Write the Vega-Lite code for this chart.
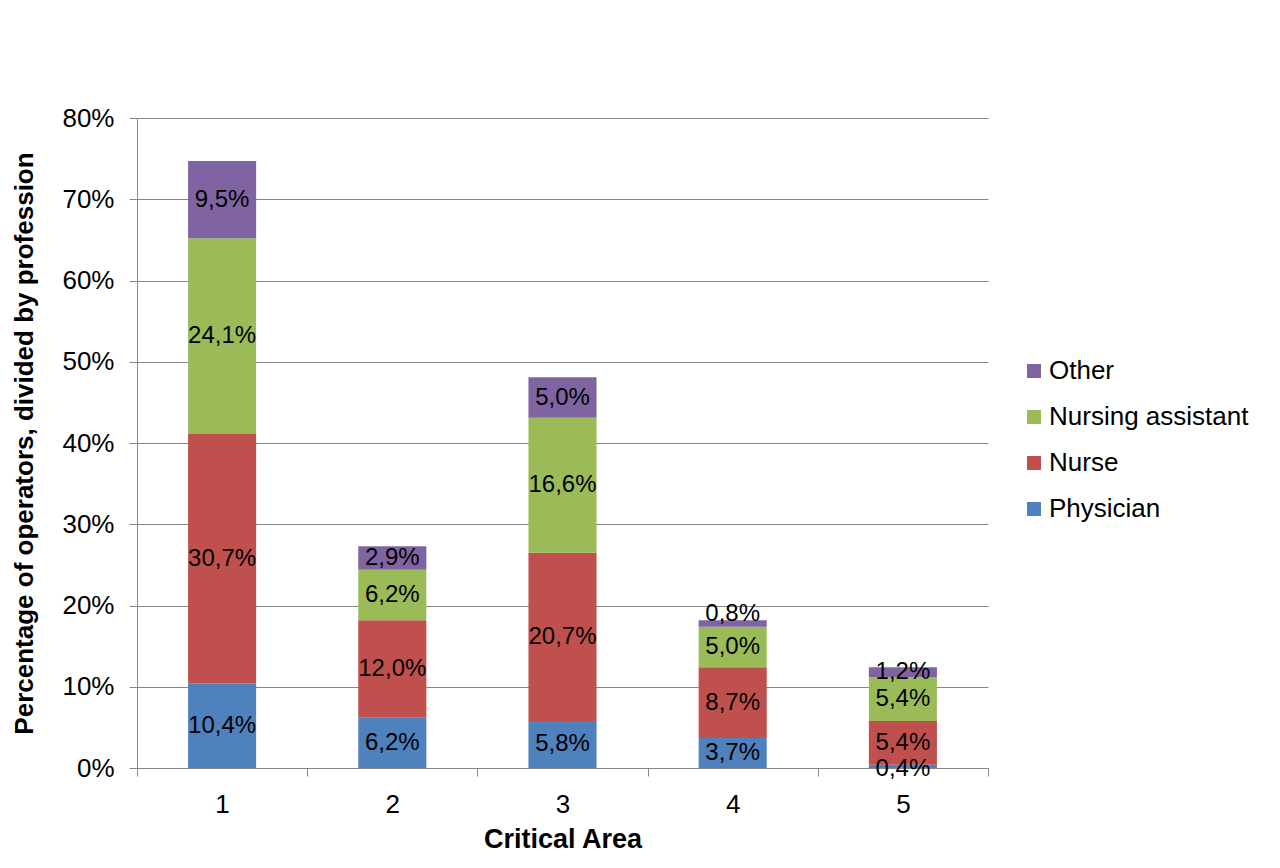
{
  "$schema": "https://vega.github.io/schema/vega-lite/v6.json",
  "autosize": {"type": "none"},
  "width": 851,
  "height": 650,
  "padding": {"left": 137, "top": 118, "right": 292, "bottom": 100},
  "background": "white",
  "config": {
    "font": "Liberation Sans",
    "view": {"stroke": null},
    "locale": {
      "number": {"decimal": ",", "thousands": ".", "grouping": [3], "currency": ["", " €"]}
    },
    "axis": {
      "domainColor": "#868686",
      "tickColor": "#868686",
      "gridColor": "#868686",
      "labelColor": "#000000",
      "titleColor": "#000000",
      "labelFont": "Liberation Sans",
      "titleFont": "Liberation Sans",
      "labelFontSize": 26,
      "titleFontSize": 27,
      "titleFontWeight": "bold",
      "tickSize": 8
    }
  },
  "data": {
    "values": [
      {"area": 1, "profession": "Physician", "share": 0.104},
      {"area": 1, "profession": "Nurse", "share": 0.307},
      {"area": 1, "profession": "Nursing assistant", "share": 0.241},
      {"area": 1, "profession": "Other", "share": 0.095},
      {"area": 2, "profession": "Physician", "share": 0.062},
      {"area": 2, "profession": "Nurse", "share": 0.120},
      {"area": 2, "profession": "Nursing assistant", "share": 0.062},
      {"area": 2, "profession": "Other", "share": 0.029},
      {"area": 3, "profession": "Physician", "share": 0.058},
      {"area": 3, "profession": "Nurse", "share": 0.207},
      {"area": 3, "profession": "Nursing assistant", "share": 0.166},
      {"area": 3, "profession": "Other", "share": 0.050},
      {"area": 4, "profession": "Physician", "share": 0.037},
      {"area": 4, "profession": "Nurse", "share": 0.087},
      {"area": 4, "profession": "Nursing assistant", "share": 0.050},
      {"area": 4, "profession": "Other", "share": 0.008},
      {"area": 5, "profession": "Physician", "share": 0.004},
      {"area": 5, "profession": "Nurse", "share": 0.054},
      {"area": 5, "profession": "Nursing assistant", "share": 0.054},
      {"area": 5, "profession": "Other", "share": 0.012}
    ]
  },
  "transform": [
    {"calculate": "indexof(['Physician', 'Nurse', 'Nursing assistant', 'Other'], datum.profession)", "as": "rank"},
    {"stack": "share", "groupby": ["area"], "sort": [{"field": "rank", "order": "ascending"}], "as": ["lo", "hi"]},
    {"calculate": "(datum.lo + datum.hi) / 2", "as": "mid"}
  ],
  "encoding": {
    "x": {
      "field": "area",
      "type": "ordinal",
      "scale": {"paddingInner": 0, "paddingOuter": 0},
      "axis": {
        "title": "Critical Area",
        "labelAngle": 0,
        "tickBand": "extent",
        "labelPadding": 15,
        "titlePadding": 9,
        "grid": false
      }
    }
  },
  "layer": [
    {
      "mark": {"type": "bar", "width": {"band": 0.4}},
      "encoding": {
        "y": {
          "field": "lo",
          "type": "quantitative",
          "scale": {"domain": [0, 0.8], "nice": false},
          "axis": {
            "title": "Percentage of operators, divided by profession",
            "titleFontSize": 26,
            "format": ".0%",
            "values": [0, 0.1, 0.2, 0.3, 0.4, 0.5, 0.6, 0.7, 0.8],
            "grid": true,
            "labelPadding": 15,
            "titlePadding": 24
          }
        },
        "y2": {"field": "hi"},
        "color": {
          "field": "profession",
          "type": "nominal",
          "scale": {
            "domain": ["Other", "Nursing assistant", "Nurse", "Physician"],
            "range": ["#8064A2", "#9BBB59", "#C0504D", "#4F81BD"]
          },
          "legend": {
            "title": null,
            "orient": "none",
            "legendX": 884,
            "legendY": 240,
            "padding": 0,
            "symbolType": "square",
            "symbolSize": 196,
            "symbolStrokeWidth": 0,
            "labelFontSize": 26,
            "labelFont": "Liberation Sans",
            "labelColor": "#000000",
            "labelOffset": 2,
            "rowPadding": 20,
            "labelLimit": 400
          }
        }
      }
    },
    {
      "transform": [{"filter": "datum.share >= 0.01"}],
      "mark": {"type": "text", "fontSize": 24, "font": "Liberation Sans", "color": "#000000", "baseline": "middle"},
      "encoding": {
        "y": {"field": "mid", "type": "quantitative"},
        "text": {"field": "share", "type": "quantitative", "format": ".1%"}
      }
    },
    {
      "transform": [{"filter": "datum.share < 0.01 && datum.profession === 'Other'"}],
      "mark": {"type": "text", "fontSize": 24, "font": "Liberation Sans", "color": "#000000", "baseline": "middle", "dy": -9},
      "encoding": {
        "y": {"field": "mid", "type": "quantitative"},
        "text": {"field": "share", "type": "quantitative", "format": ".1%"}
      }
    },
    {
      "transform": [{"filter": "datum.share < 0.01 && datum.profession === 'Physician'"}],
      "mark": {"type": "text", "fontSize": 24, "font": "Liberation Sans", "color": "#000000", "baseline": "middle", "dy": 3},
      "encoding": {
        "y": {"field": "mid", "type": "quantitative"},
        "text": {"field": "share", "type": "quantitative", "format": ".1%"}
      }
    }
  ]
}
